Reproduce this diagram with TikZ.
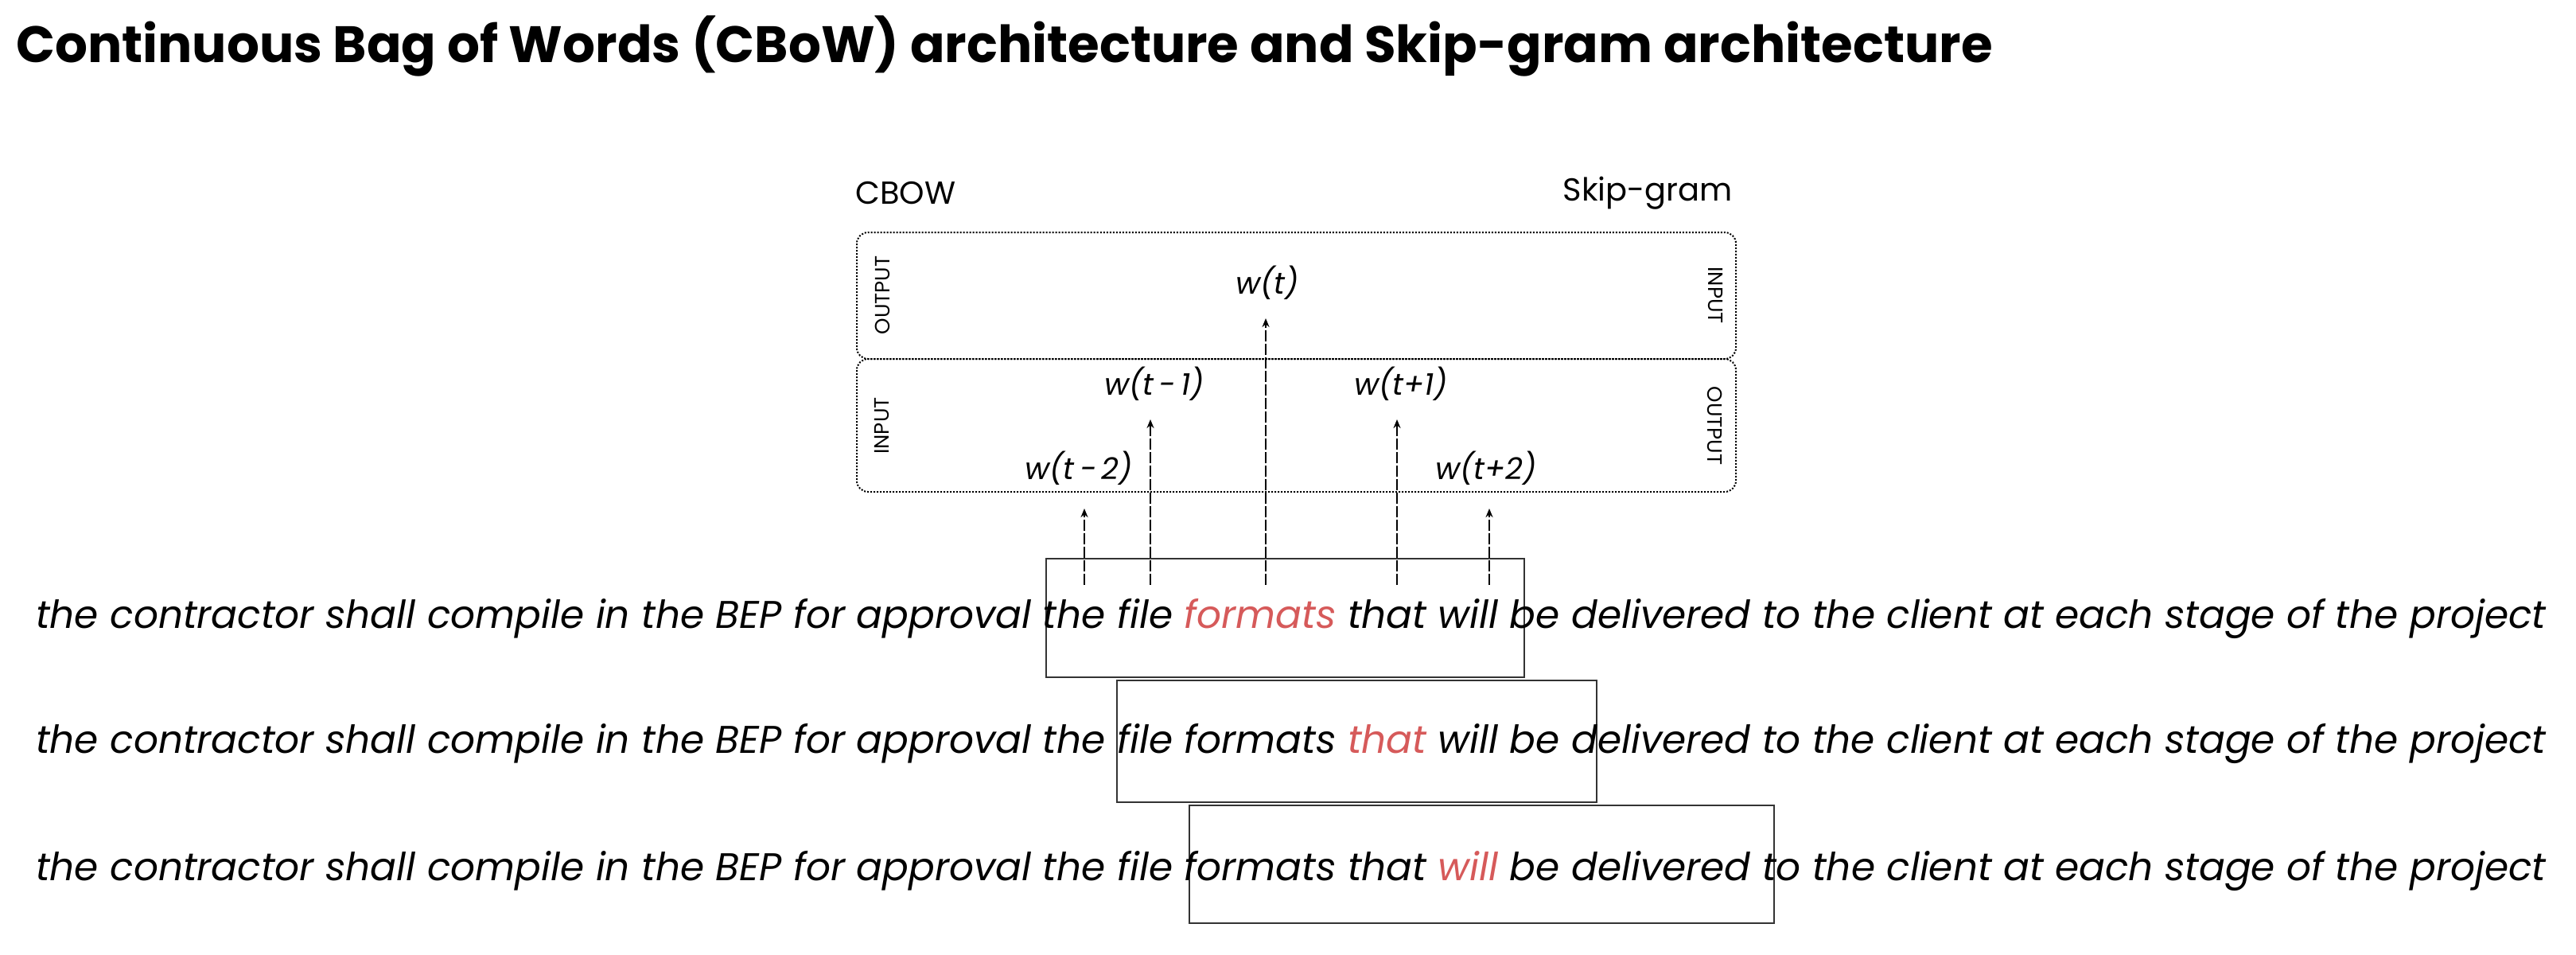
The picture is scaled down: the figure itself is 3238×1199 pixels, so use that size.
\documentclass[tikz,border=0pt]{standalone}
\usepackage{fontspec}
\setmainfont{Poppins}
\usetikzlibrary{arrows.meta}
\definecolor{hl}{RGB}{214,90,90}
\begin{document}
\begin{tikzpicture}[x=1pt,y=-1pt,
  sent/.style={anchor=west,inner sep=0pt},
  lab/.style={font=\fontsize{38}{42}\selectfont\itshape,inner sep=0pt},
  side/.style={font=\fontsize{26}{28}\selectfont,inner sep=0pt},
  zone/.style={draw,dotted,line width=2pt,rounded corners=14pt},
  win/.style={draw,line width=2.2pt,black!80},
  arr/.style={dashed,dash pattern=on 14pt off 3pt,line width=2.4pt,-{Stealth[length=11pt,width=9pt]}}]
\useasboundingbox (0,0) rectangle (3238,1199);
\node[anchor=west,inner sep=0pt] (title) at (20,58) {\resizebox{2483pt}{!}{\bfseries Continuous Bag of Words (CBoW) architecture and Skip-gram architecture}};
\node[anchor=west,inner sep=0pt,font=\fontsize{40}{44}\selectfont] (cbow) at (1075,243) {CBOW};
\node[anchor=east,inner sep=0pt,font=\fontsize{40}{44}\selectfont] (skip) at (2178,243) {Skip-gram};
\draw[zone] (1077,292) rectangle (2182,451);
\draw[zone] (1077,451) rectangle (2182,618);
\node[side,rotate=90] (o1) at (1109,371) {OUTPUT};
\node[side,rotate=90] (i1) at (1109,535) {INPUT};
\node[side,rotate=-90] (i2) at (2156,371) {INPUT};
\node[side,rotate=-90] (o2) at (2156,535) {OUTPUT};
% windows
\draw[win] (1315,702) rectangle (1916,851);
\draw[win] (1404,855) rectangle (2007,1008);
\draw[win] (1495,1012) rectangle (2230,1160);
% sentences
\node[sent] (s1) at (45,777) {\resizebox{3155pt}{!}{\itshape the contractor shall compile in the BEP for approval the file \textcolor{hl}{formats} that will be delivered to the client at each stage of the project}};
\node[sent] (s2) at (45,934) {\resizebox{3155pt}{!}{\itshape the contractor shall compile in the BEP for approval the file formats \textcolor{hl}{that} will be delivered to the client at each stage of the project}};
\node[sent] (s3) at (45,1094) {\resizebox{3155pt}{!}{\itshape the contractor shall compile in the BEP for approval the file formats that \textcolor{hl}{will} be delivered to the client at each stage of the project}};
% labels
\node[lab] (wt) at (1593,355) {w(t)};
\node[lab] (wm1) at (1451,482) {w(t\,−\,1)};
\node[lab] (wp1) at (1761,482) {w(t+1)};
\node[lab] (wm2) at (1356,588) {w(t\,−\,2)};
\node[lab] (wp2) at (1868,588) {w(t+2)};
\coordinate (b1) at (1363,735); \coordinate (e1) at (1363,639);
\coordinate (b2) at (1446,735); \coordinate (e2) at (1446,527);
\coordinate (b3) at (1591,735); \coordinate (e3) at (1591,400);
\coordinate (b4) at (1756,735); \coordinate (e4) at (1756,527);
\coordinate (b5) at (1872,735); \coordinate (e5) at (1872,639);
\foreach \i in {1,...,5} \draw[arr] (b\i) -- (e\i);
\end{tikzpicture}
\end{document}
